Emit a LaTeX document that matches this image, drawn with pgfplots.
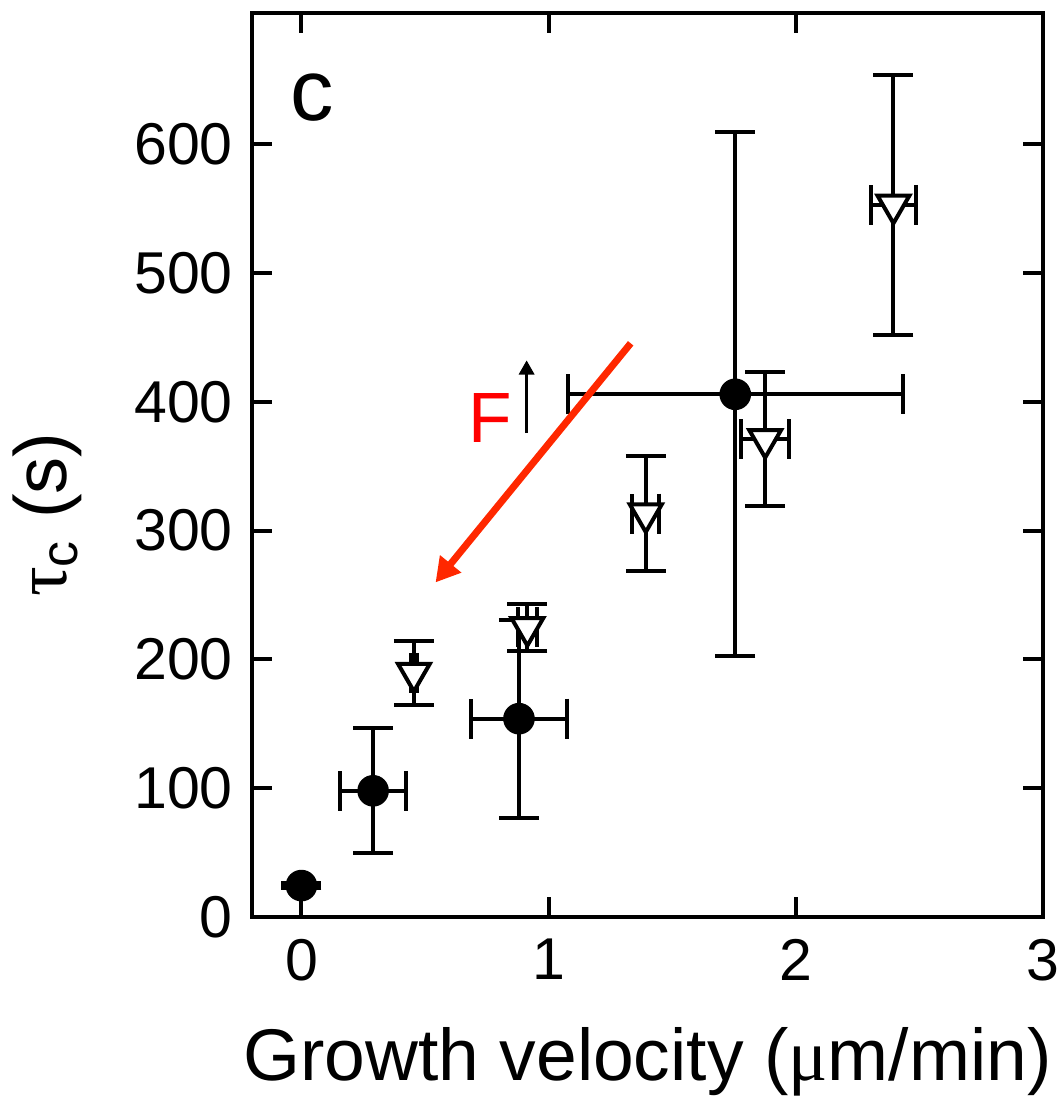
\documentclass[border=0pt]{standalone}
\usepackage{fontspec}
\setmainfont{Liberation Sans}
\newfontfamily\symfont{Liberation Serif}
\usepackage{pgfplots}
\pgfplotsset{compat=1.18}
\usetikzlibrary{arrows.meta}
\definecolor{arrowred}{RGB}{255,40,0}
\definecolor{fred}{RGB}{255,0,0}

\pgfplotstableread{
x y ex ey
0 24.4 0 1.8
0.29 98 0.135 48.5
0.88 154 0.195 77
1.755 405.9 0.678 203.6
}\circles
\pgfplotstableread{
x y ex ey
0.455 189.5 0.012 25.2
0.914 225 0.037 18.3
1.393 313.2 0.055 44.7
1.876 371 0.096 51.9
2.395 553 0.09 101.2
}\triangles

\begin{document}
\begin{tikzpicture}
\begin{axis}[
  scale only axis, width=197.75pt, height=226pt,
  xmin=-0.2, xmax=3, ymin=0, ymax=702,
  clip=false,
  xtick={0,1,2,3}, ytick={0,100,...,600},
  minor tick num=0,
  tick align=inside,
  major tick length=5pt,
  tick style={line width=1pt, black},
  axis line style={line width=1pt},
  /pgf/number format/assume math mode=true,
  ticklabel style={font=\fontsize{14.75pt}{17pt}\selectfont},
  xticklabel style={yshift=-2pt},
  yticklabel style={xshift=-1.3pt},
  xlabel={Growth velocity ({\symfont μ}m/min)},
  xlabel style={font=\fontsize{18.3pt}{21pt}\selectfont, at={(axis description cs:0.5,-0.1814)}, anchor=base},
  ylabel={{\symfont τ}\textsubscript{c} (s)},
  ylabel style={font=\fontsize{18.5pt}{21pt}\selectfont, at={(axis description cs:-0.234,0.445)}, anchor=base, rotate=0},
  error bars/error bar style={line width=1pt, black},
  error bars/error mark options={rotate=90, line width=1pt, mark size=5pt, black},
]
\addplot[only marks, mark=*, mark size=3.75pt, mark options={fill=black, draw=black},
  error bars/.cd, x dir=both, x explicit, y dir=both, y explicit]
  table[x=x, y=y, x error=ex, y error=ey] {\circles};
\addplot[only marks, mark=triangle*, mark size=4.6pt,
  mark options={fill=white, draw=black, line width=1pt, rotate=180},
  error bars/.cd, x dir=both, x explicit, y dir=both, y explicit]
  table[x=x, y=y, x error=ex, y error=ey] {\triangles};

\node[font=\fontsize{21.7pt}{24pt}\selectfont, anchor=center] at (axis cs:0.043,636) {c};
\node[font=\fontsize{17.8pt}{20pt}\selectfont, text=fred, anchor=center] at (axis cs:0.765,387.3) {F};
\draw[line width=0.85pt, -{Triangle[width=3.8pt,length=3.6pt]}] (axis cs:0.911,375.7) -- (axis cs:0.911,432.3);
\draw[line width=1.75pt, arrowred, -{Triangle[width=6.5pt,length=6pt]}] (axis cs:1.332,445.5) -- (axis cs:0.5425,259.8);

\coordinate (sw) at (rel axis cs:0,0);
\coordinate (ne) at (rel axis cs:1,1);
\end{axis}
\pgfresetboundingbox
\useasboundingbox ([xshift=-63pt,yshift=-45pt]sw) rectangle ([xshift=4.5pt,yshift=3.25pt]ne);
\end{tikzpicture}
\end{document}
